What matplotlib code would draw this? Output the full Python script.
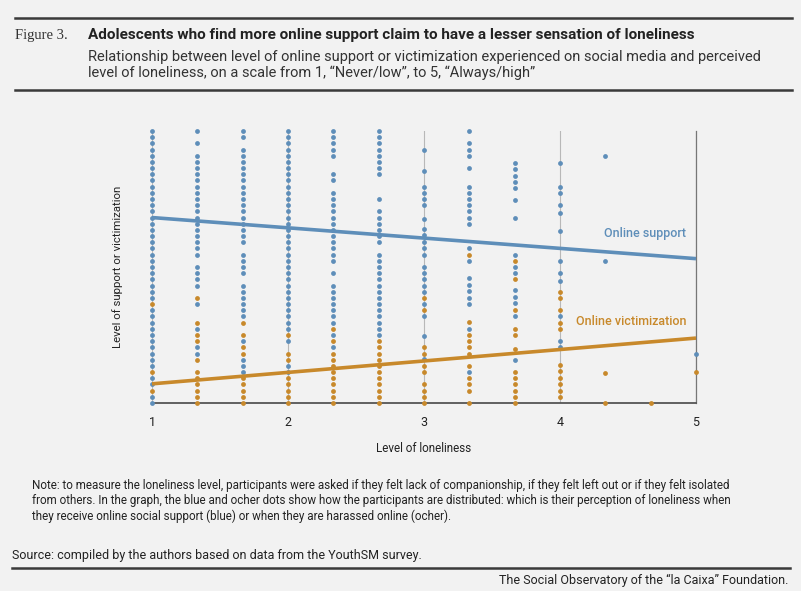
import numpy as np
import matplotlib
matplotlib.use("Agg")
import matplotlib.pyplot as plt
from matplotlib.lines import Line2D

# loneliness level of each dot column
loneliness = [1.0, 1.333, 1.667, 2.0, 2.333, 2.667, 3.0, 3.333, 3.667, 4.0, 4.333, 4.667, 5.0]

# dot positions on the 45-step support/victimization grid (0 = score 1, 44 = score 5)
support_levels = [
    [0, 1, 3, 4, 6, 7, 8, 9, 10, 11, 12, 13, 14, 15, 17, 18, 19, 20, 21, 22, 23, 24, 25, 26, 27, 28,
     29, 30, 31, 32, 33, 34, 35, 36, 37, 38, 39, 40, 41, 42, 43, 44],
    [8, 9, 12, 16, 19, 20, 21, 22, 24, 25, 26, 27, 28, 29, 30, 31, 32, 33, 34, 35, 36, 37, 38, 39, 40, 42, 44],
    [5, 6, 7, 10, 14, 15, 16, 17, 18, 19, 21, 22, 23, 24, 26, 27, 28, 29, 30, 31, 32, 33, 34, 35, 36, 37,
     38, 39, 40, 41, 43, 44],
    [5, 6, 10, 12, 13, 14, 15, 16, 17, 18, 19, 20, 21, 22, 23, 24, 25, 26, 27, 28, 29, 30, 31, 32, 33, 34,
     35, 36, 37, 38, 39, 40, 41, 42, 43, 44],
    [9, 11, 13, 14, 15, 16, 17, 18, 19, 21, 23, 24, 25, 26, 27, 28, 29, 30, 31, 32, 33, 34, 36, 37, 40, 41,
     42, 43, 44],
    [11, 12, 13, 14, 15, 16, 17, 18, 19, 20, 21, 22, 23, 24, 26, 27, 28, 29, 30, 31, 33, 37, 38, 39, 40, 41,
     42, 43, 44],
    [7.1, 10.9, 14, 16, 18, 19, 20, 21, 22, 24, 25, 26.1, 27.2, 28.2, 29.8, 32, 33, 34, 35, 37.6, 41],
    [5, 12, 16, 17, 18.1, 19.1, 20.2, 23, 25, 29, 30, 31, 32, 33, 34, 35, 38, 40, 41, 42, 44],
    [7, 14, 16.1, 17.1, 18.2, 21, 22, 24, 29.9, 32.9, 34.7, 35.7, 36.8, 37.9, 38.9],
    [9.1, 10, 14, 19.8, 21, 23, 27.9, 30.8, 32, 33.9, 35, 38.9],
    [22.9, 40],
    [],
    [7.9],
]
victim_levels = [
    [2, 5, 16],
    [0, 1, 2, 3, 4, 5, 7, 10, 11, 13, 17],
    [0, 1, 2, 3, 4, 8, 9, 11, 13],
    [0, 1, 2, 3, 4, 7, 8, 11],
    [0, 1, 2, 3, 4, 5, 6, 7, 8, 10, 12],
    [0, 1, 2, 3, 4, 5, 6, 7, 8, 9, 10],
    [0, 1, 2, 3, 5, 6, 8, 9, 15, 17],
    [0, 2, 3, 4, 6, 8, 9, 10, 11, 13.1, 24],
    [0, 1, 2, 3, 4, 5, 8.8, 11, 12, 15.1, 20, 23],
    [0.9, 2, 3, 4, 5.1, 6.1, 11.9, 13, 15.1, 17, 18],
    [0, 4.9],
    [0],
    [5],
]

# fitted trend lines, grid position at loneliness 1 and 5
trend_x = [1, 5]
support_trend = [30.0, 23.35]
victim_trend = [3.1, 10.5]

BLUE = "#5e8eb9"
OCHER = "#c8892b"
BG = "#f2f2f2"
DARK = "#3a3a3a"

narrow = ["Liberation Sans Narrow", "Roboto", "DejaVu Sans"]
serif = ["Liberation Serif", "DejaVu Serif"]


def to_score(levels):
    return 1 + np.asarray(levels, dtype=float) / 11.0


fig = plt.figure(figsize=(8.01, 5.91), dpi=100, facecolor=BG)
ax = fig.add_axes([152 / 801, 1 - 403 / 591, 544 / 801, 272 / 591])
ax.set_facecolor(BG)

for x, vic, sup in zip(loneliness, victim_levels, support_levels):
    if vic:
        ax.scatter(np.full(len(vic), x), to_score(vic), s=12, color=OCHER, linewidths=0,
                   zorder=3, clip_on=False)
    if sup:
        ax.scatter(np.full(len(sup), x), to_score(sup), s=12, color=BLUE, linewidths=0,
                   zorder=3, clip_on=False)

ax.plot(trend_x, to_score(support_trend), color=BLUE, lw=2.6, zorder=4, solid_capstyle="butt")
ax.plot(trend_x, to_score(victim_trend), color=OCHER, lw=2.6, zorder=4, solid_capstyle="butt")

ax.text(4.93, to_score(support_trend)[1] + 0.37, "Online support", color=BLUE, ha="right",
        va="center", fontsize=9.0, family=narrow, fontweight="medium")
ax.text(4.93, to_score(victim_trend)[1] + 0.25, "Online victimization", color=OCHER, ha="right",
        va="center", fontsize=9.0, family=narrow, fontweight="medium")

ax.set_xlim(1, 5)
ax.set_ylim(1, 5)
ax.set_xticks([1, 2, 3, 4, 5])
ax.set_xticklabels(["1", "2", "3", "4", "5"], family=narrow, fontsize=9, color="#222222")
ax.set_yticks([])
ax.tick_params(axis="x", length=0, pad=9)
ax.grid(axis="x", color="#b8b8b8", lw=0.8, zorder=0)
for side in ["left", "top"]:
    ax.spines[side].set_visible(False)
ax.spines["right"].set_color("#777777")
ax.spines["right"].set_linewidth(0.9)
ax.spines["bottom"].set_color("#555555")
ax.spines["bottom"].set_linewidth(1.3)
ax.set_xlabel("Level of loneliness", family=narrow, fontsize=8.4, color="#222222", labelpad=10)
ax.set_ylabel("Level of support or victimization", family=narrow, fontsize=8.2, color="#222222",
              labelpad=21)

# header
fig.add_artist(Line2D([15 / 801, 792 / 801], [1 - 18 / 591] * 2, color=DARK, lw=1.8))
fig.add_artist(Line2D([15 / 801, 792 / 801], [1 - 90 / 591] * 2, color=DARK, lw=1.8))
fig.text(15 / 801, 1 - 35 / 591, "Figure 3.", family=serif, fontsize=10.5, color="#333333",
         va="center")
fig.text(88 / 801, 1 - 35 / 591,
         "Adolescents who find more online support claim to have a lesser sensation of loneliness",
         family=narrow, fontsize=11, fontweight="bold", color="#222222", va="center")
fig.text(88 / 801, 1 - 65 / 591,
         "Relationship between level of online support or victimization experienced on social media and perceived\n"
         "level of loneliness, on a scale from 1, \u201cNever/low\u201d, to 5, \u201cAlways/high\u201d",
         family=narrow, fontsize=10.55, color="#333333", va="center", linespacing=1.15)

# footer
fig.text(32 / 801, 1 - 501 / 591,
         "Note: to measure the loneliness level, participants were asked if they felt lack of companionship, "
         "if they felt left out or if they felt isolated\n"
         "from others. In the graph, the blue and ocher dots show how the participants are distributed: "
         "which is their perception of loneliness when\n"
         "they receive online social support (blue) or when they are harassed online (ocher).",
         family=narrow, fontsize=8.4, color="#222222", va="center", linespacing=1.22)
fig.text(12 / 801, 1 - 555 / 591, "Source: compiled by the authors based on data from the YouthSM survey.",
         family=narrow, fontsize=9.0, color="#222222", va="center")
fig.add_artist(Line2D([12 / 801, 790 / 801], [1 - 568 / 591] * 2, color=DARK, lw=1.8))
fig.text(788 / 801, 1 - 580 / 591, "The Social Observatory of the \u201cla Caixa\u201d Foundation.",
         family=narrow, fontsize=9.0, color="#222222", va="center", ha="right")

fig.savefig("out.png", dpi=100, facecolor=BG)
